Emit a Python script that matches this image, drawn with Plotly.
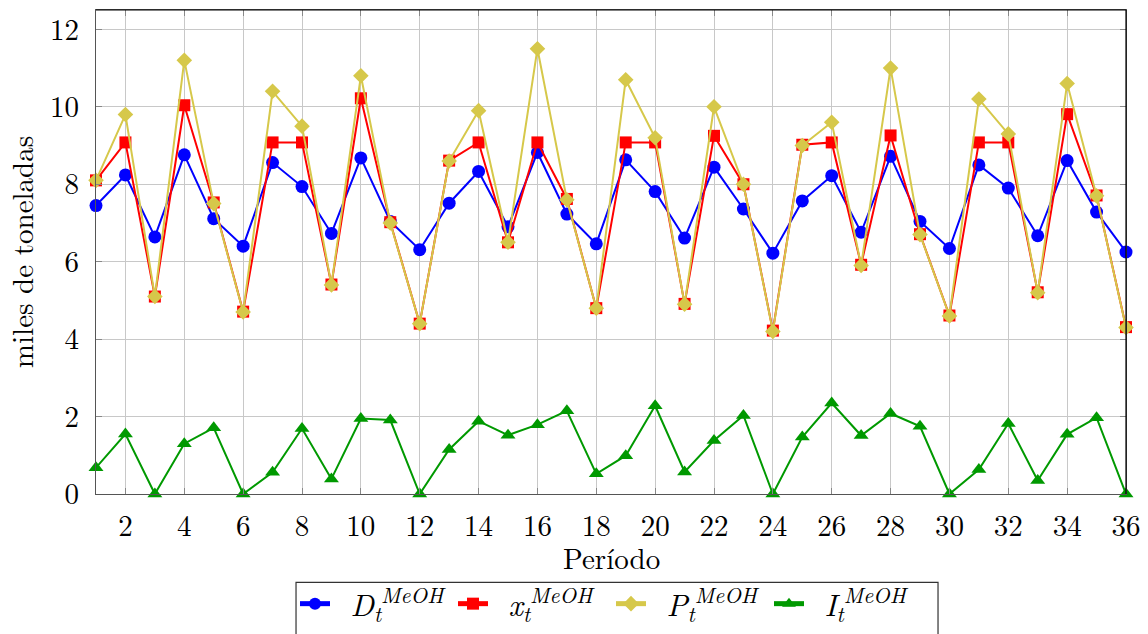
import plotly.graph_objects as go

# Periods 1..36
periodos = list(range(1, 37))

# Demand of methanol (thousand tonnes)
demanda = [7.45, 8.24, 6.64, 8.76, 7.11, 6.40, 8.56, 7.94, 6.73, 8.68, 7.04, 6.31,
           7.51, 8.33, 6.90, 8.82, 7.23, 6.46, 8.63, 7.81, 6.61, 8.44, 7.36, 6.22,
           7.57, 8.22, 6.76, 8.72, 7.04, 6.34, 8.50, 7.90, 6.67, 8.61, 7.28, 6.25]

# Quantity produced / shipped
envio = [8.10, 9.08, 5.10, 10.04, 7.53, 4.71, 9.08, 9.08, 5.41, 10.22, 7.02, 4.40,
         8.61, 9.08, 6.50, 9.08, 7.62, 4.80, 9.08, 9.08, 4.91, 9.25, 8.00, 4.22,
         9.02, 9.08, 5.92, 9.26, 6.71, 4.61, 9.08, 9.08, 5.21, 9.81, 7.71, 4.31]

# Production capacity
produccion = [8.10, 9.80, 5.10, 11.20, 7.50, 4.70, 10.40, 9.50, 5.40, 10.80, 7.00, 4.40,
              8.60, 9.90, 6.50, 11.50, 7.60, 4.80, 10.70, 9.20, 4.90, 10.00, 8.00, 4.20,
              9.00, 9.60, 5.90, 11.00, 6.70, 4.60, 10.20, 9.30, 5.20, 10.60, 7.70, 4.30]

# Inventory at period end
inventario = [0.68, 1.55, 0.00, 1.30, 1.71, 0.00, 0.56, 1.69, 0.39, 1.95, 1.91, 0.00,
              1.15, 1.88, 1.52, 1.79, 2.15, 0.52, 0.99, 2.28, 0.57, 1.38, 2.03, 0.00,
              1.47, 2.35, 1.51, 2.08, 1.75, 0.00, 0.63, 1.82, 0.35, 1.54, 1.97, 0.00]

x_ticks = list(range(2, 37, 2))
y_ticks = list(range(0, 13, 2))

FONT = "Latin Modern Roman, CMU Serif, Liberation Serif, serif"
SP = "\u00a0"

series = [
    (demanda, SP + "<i>D</i><sub><i>t</i></sub><sup><i>MeOH</i></sup>", "#0000ff", "circle", 13),
    (envio, SP + "<i>x</i><sub><i>t</i></sub><sup><i>MeOH</i></sup>", "#ff0000", "square", 12),
    (produccion, SP + "<i>P</i><sub><i>t</i></sub><sup><i>MeOH</i></sup>", "#d6c84a", "diamond", 12),
    (inventario, SP + "<i>I</i><sub><i>t</i></sub><sup><i>MeOH</i></sup>", "#009900", "triangle-up", 13),
]

fig = go.Figure()
for vals, name, color, symbol, size in series:
    fig.add_trace(go.Scatter(
        x=periodos, y=vals, name=name, mode="lines+markers",
        line=dict(color=color, width=2),
        marker=dict(symbol=symbol, size=size, color=color, line=dict(width=0)),
        cliponaxis=False,
    ))

axis_common = dict(
    showgrid=True, gridcolor="#c8c8c8", gridwidth=1,
    showline=True, linecolor="#555555", linewidth=1.2,
    ticks="inside", ticklen=6, tickcolor="#888888", tickwidth=1,
    mirror="ticks", zeroline=False,
    tickfont=dict(family=FONT, size=29, color="black"),
    title_font=dict(family=FONT, size=29, color="black"),
)

fig.update_xaxes(range=[1, 36], tickvals=x_ticks, ticklabelstandoff=6, **axis_common)
fig.update_yaxes(
    range=[0, 12.5], tickvals=y_ticks, ticklabelstandoff=10,
    title_text="miles de toneladas", title_standoff=14, **axis_common,
)

# x-axis title placed just under the tick labels
fig.add_annotation(
    text="Período", xref="paper", yref="paper", x=0.5, y=-0.129,
    xanchor="center", yanchor="middle", showarrow=False,
    font=dict(family=FONT, size=29, color="black"),
)

# Top and right frame edges in black
fig.add_shape(type="line", xref="paper", yref="paper", x0=0, x1=1, y0=1, y1=1,
              line=dict(color="black", width=1.2))
fig.add_shape(type="line", xref="paper", yref="paper", x0=1, x1=1, y0=0, y1=1,
              line=dict(color="black", width=1.2))

# Legend frame
fig.add_shape(type="rect", xref="paper", yref="paper",
              x0=0.1942, x1=0.8175, y0=-0.1827, y1=-0.35,
              line=dict(color="#333333", width=1.2), fillcolor="rgba(0,0,0,0)")

fig.update_layout(
    width=1148, height=634,
    margin=dict(l=96, r=22, t=10, b=139.5, autoexpand=False),
    plot_bgcolor="white", paper_bgcolor="white",
    font=dict(family=FONT, size=29, color="black"),
    showlegend=True,
    legend=dict(
        orientation="h", x=0.5, xanchor="center",
        y=-0.1715, yanchor="top",
        borderwidth=0, bgcolor="rgba(0,0,0,0)",
        font=dict(family=FONT, size=31, color="black"),
        entrywidth=113, entrywidthmode="pixels",
        tracegroupgap=0, itemsizing="constant",
    ),
)

fig.write_html("out.html")
